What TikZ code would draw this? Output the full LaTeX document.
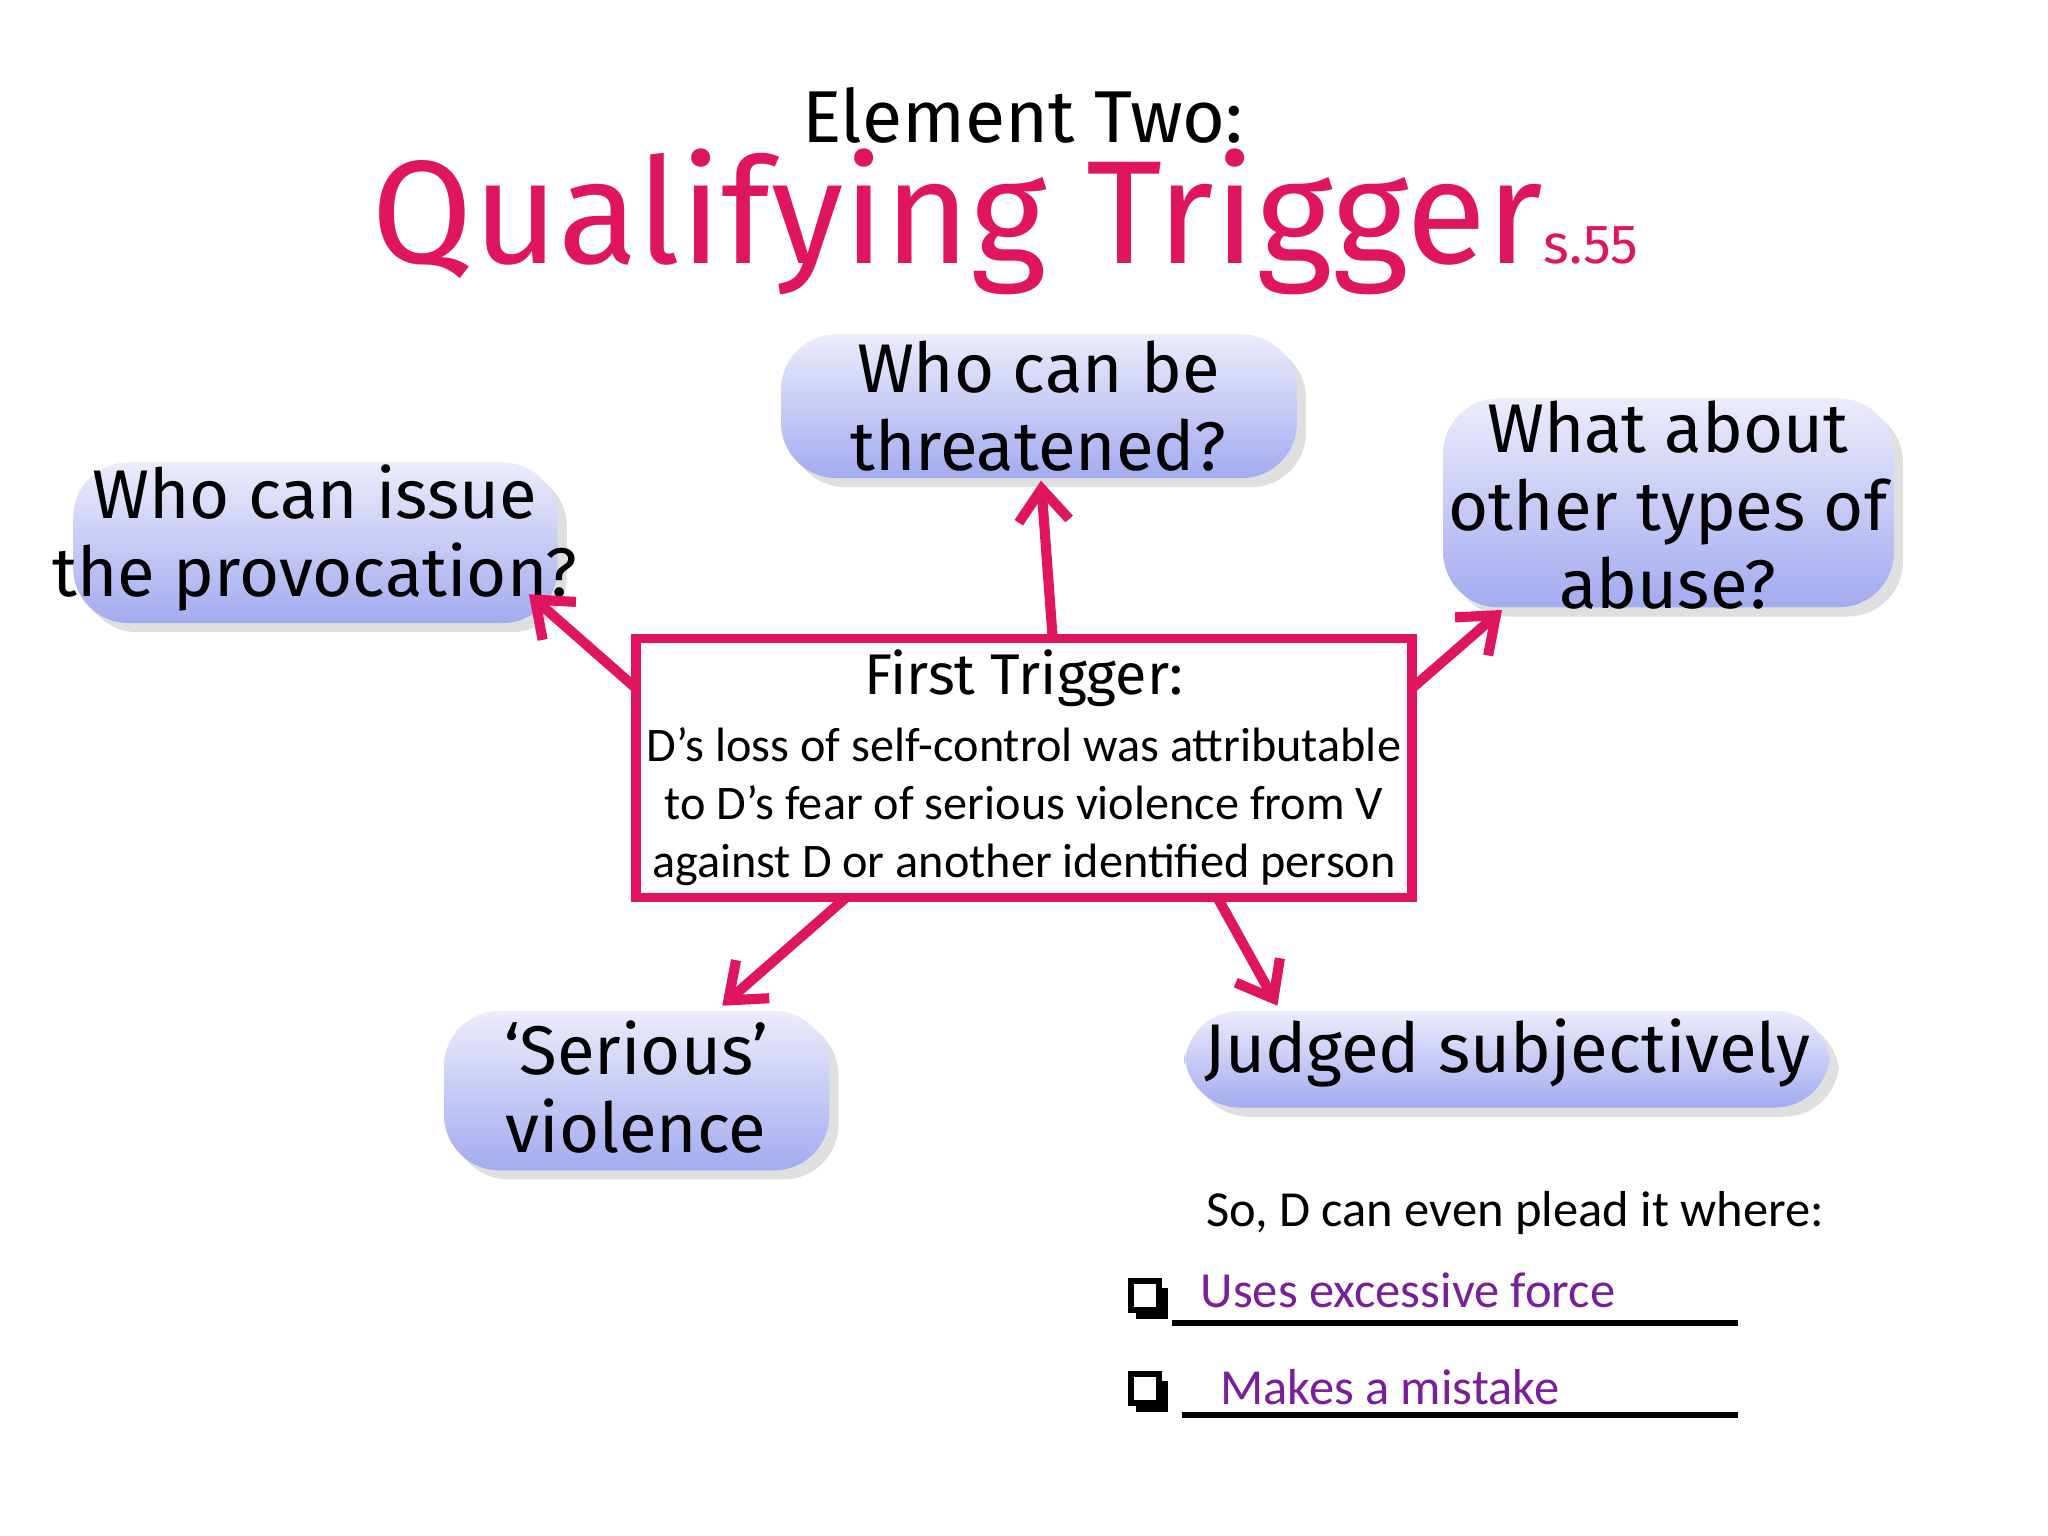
\documentclass[tikz,border=0pt]{standalone}
\usepackage{fontspec}
\setmainfont{Carlito}
\newfontfamily\comic{Fira Sans}
\usetikzlibrary{shadows,arrows.meta}
\definecolor{crim}{HTML}{E0155F}
\definecolor{lavtop}{HTML}{ECECFB}
\definecolor{lavbot}{HTML}{A3ABF0}
\definecolor{purp}{HTML}{7A1E9A}
\begin{document}
\begin{tikzpicture}[x=0.01cm,y=-0.01cm,
 bub/.style={draw=none,rounded corners=12pt,top color=lavtop,bottom color=lavbot,drop shadow={opacity=0.25,shadow xshift=2pt,shadow yshift=-2pt},font=\comic\fontsize{15}{17}\selectfont,align=center,inner sep=0pt},
 arr/.style={draw=crim,line width=2.2pt,-{Straight Barb[length=7pt,width=11pt]}}]
\useasboundingbox (0,0) rectangle (1568,1176);
\node (e2) at (783,88) {\comic\fontsize{16}{18}\selectfont Element Two:};
\node[text=crim] (qt) at (733,170) {\comic\fontsize{32}{36}\selectfont Qualifying Trigger};
\node[text=crim] (s55) at (1218,188) {\comic\fontsize{12}{14}\selectfont s.55};
\path[bub] (598,256) rectangle (993,366);
\node (t) at (795,311) [font=\comic\fontsize{15}{17}\selectfont,align=center] {Who can be\\threatened?};
\path[bub] (56,354) rectangle (427,477);
\node (l) at (241,412) [font=\comic\fontsize{15}{17}\selectfont,align=center] {Who can issue\\the provocation?};
\path[bub] (1105,305) rectangle (1450,465);
\node (r) at (1277,387) [font=\comic\fontsize{15}{17}\selectfont,align=center] {What about\\other types of\\abuse?};
\path[bub] (340,774) rectangle (635,896);
\node (bl) at (487,832) [font=\comic\fontsize{15}{17}\selectfont,align=center] {‘Serious’\\violence};
\path[bub] (907,774) rectangle (1401,848);
\node (br) at (1154,806) [font=\comic\fontsize{15}{17}\selectfont] {Judged subjectively};
\draw[crim,line width=2pt,fill=white] (487,489) rectangle (1081,687);
\node (c) at (784,588) [align=center,font=\fontsize{10.5}{12.6}\selectfont] {{\comic\fontsize{12.5}{14}\selectfont First Trigger:}\\[2pt]D's loss of self-control was attributable\\to D's fear of serious violence from V\\against D or another identified person};
\coordinate (c1) at (806,489); \coordinate (t1) at (797,368);
\coordinate (c2) at (487,527); \coordinate (l1) at (405,455);
\coordinate (c3) at (1081,527); \coordinate (r1) at (1150,467);
\coordinate (c4) at (648,687); \coordinate (b1) at (553,770);
\coordinate (c5) at (932,687); \coordinate (b2) at (978,770);
\draw[arr] (c1) -- (t1); \draw[arr] (c2) -- (l1); \draw[arr] (c3) -- (r1);
\draw[arr] (c4) -- (b1); \draw[arr] (c5) -- (b2);
\node (so) at (1160,929) {\fontsize{11}{13}\selectfont So, D can even plead it where:};
\node[text=purp] (u1) at (1078,988) {\fontsize{11}{13}\selectfont Uses excessive force};
\node[text=purp] (u2) at (1064,1062) {\fontsize{11}{13}\selectfont Makes a mistake};
\draw[line width=1.3pt] (897,1013) -- (1331,1013);
\draw[line width=1.3pt] (905,1083) -- (1331,1083);
\foreach \yy in {993,1064}{
 \fill (870,\yy-7) rectangle (894,\yy+17);
 \draw[fill=white,line width=1.3pt] (866,\yy-12) rectangle (887,\yy+10);}
\end{tikzpicture}
\end{document}
